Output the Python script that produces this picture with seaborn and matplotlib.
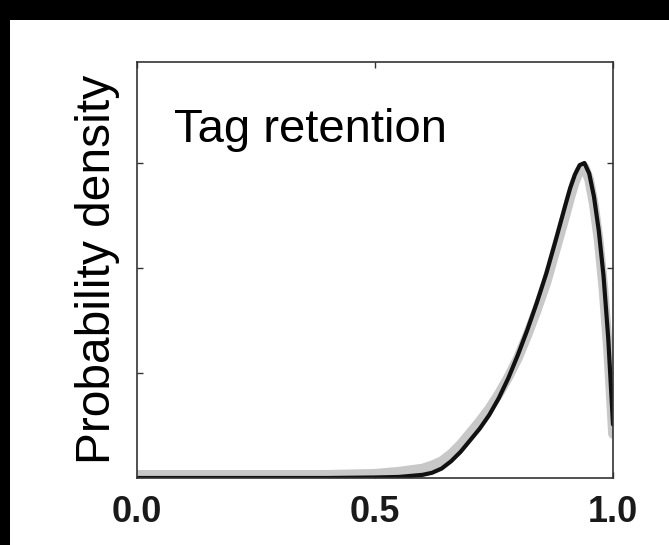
import numpy as np
import pandas as pd
import matplotlib.pyplot as plt
from matplotlib.patches import Rectangle
import seaborn as sns

# Tag retention posterior densities
retention = [0.00, 0.10, 0.20, 0.30, 0.40, 0.50, 0.55, 0.60, 0.62, 0.64, 0.66,
             0.68, 0.70, 0.72, 0.74, 0.76, 0.78, 0.80, 0.82, 0.84, 0.86, 0.88,
             0.90, 0.91, 0.92, 0.93, 0.94, 0.95, 0.96, 0.97, 0.98, 0.99, 1.00]
density_black = [0.00, 0.00, 0.00, 0.00, 0.00, 0.005, 0.01, 0.03, 0.05, 0.09, 0.16,
                 0.25, 0.36, 0.47, 0.60, 0.76, 0.95, 1.17, 1.41, 1.67, 1.95, 2.27,
                 2.60, 2.76, 2.89, 2.98, 3.00, 2.90, 2.68, 2.36, 1.93, 1.33, 0.51]
density_grey = [0.03, 0.03, 0.03, 0.03, 0.03, 0.04, 0.06, 0.09, 0.12, 0.16, 0.23,
                0.32, 0.43, 0.54, 0.66, 0.80, 0.96, 1.14, 1.36, 1.60, 1.86, 2.18,
                2.50, 2.67, 2.82, 2.93, 2.96, 2.84, 2.60, 2.26, 1.80, 1.20, 0.42]
xticks = [0.0, 0.5, 1.0]
xtick_labels = ["0.0", "0.5", "1.0"]
yticks = [1, 2, 3]

df = pd.DataFrame({"x": retention, "black": density_black, "grey": density_grey})

sns.set_style("ticks")
plt.rcParams['font.family'] = ['Liberation Sans', 'DejaVu Sans']

fig = plt.figure(figsize=(6.69, 5.45), dpi=100)
fig.patch.set_facecolor("black")
fig.add_artist(Rectangle((10 / 669, 0), 1, 1 - 20 / 545, transform=fig.transFigure,
                         facecolor="white", edgecolor="none", zorder=-5))

ax = fig.add_axes([137 / 669, 1 - 478 / 545, 476 / 669, 416 / 545])
ax.set_facecolor("white")

sns.lineplot(data=df, x="x", y="grey", ax=ax, color="#c8c8c8", linewidth=7,
             solid_capstyle="round", solid_joinstyle="round")
sns.lineplot(data=df, x="x", y="black", ax=ax, color="#111111", linewidth=3,
             solid_capstyle="round", solid_joinstyle="round")

ax.set_xlim(0, 1)
ax.set_ylim(0, 416 / 105)
ax.set_xticks(xticks)
ax.set_xticklabels(xtick_labels, fontsize=26, fontweight="bold", color="#1a1a1a")
ax.set_yticks(yticks)
ax.set_yticklabels([])
ax.tick_params(direction="in", length=4, width=1, colors="#333333",
               top=True, right=True, pad=12)
ax.tick_params(axis="x", labelcolor="#1a1a1a")
for s in ax.spines.values():
    s.set_linewidth(1.2)
    s.set_color("#333333")
ax.set_xlabel("")
ax.set_ylabel("")

ax.text(0.078, 0.807, "Tag retention", transform=ax.transAxes, fontsize=34,
        va="baseline", ha="left", color="black")
fig.text(98 / 669, 1 - 269 / 545, "Probability density", rotation=90,
         fontsize=34.5, ha="center", va="center", color="black")

plt.savefig("out.png", dpi=100, facecolor=fig.get_facecolor())
plt.close()
